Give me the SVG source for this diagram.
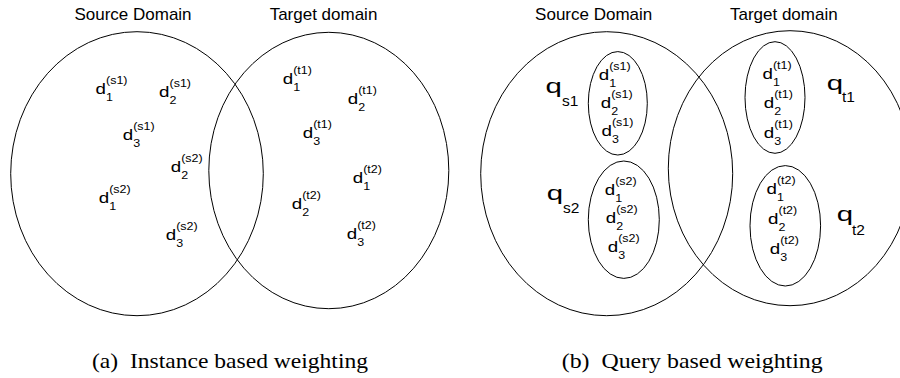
<svg xmlns="http://www.w3.org/2000/svg" width="900" height="378" viewBox="0 0 900 378">
<style>
.bg{fill:#fff}
.set{fill:none;stroke:#000;stroke-width:1}
.title{font-family:"Liberation Sans",Arial,sans-serif;font-size:17px;fill:#000;text-anchor:middle}
.dm{font-family:"Liberation Sans",Arial,sans-serif;font-size:15px;fill:#000}
.ds{font-family:"Liberation Sans",Arial,sans-serif;font-size:10px;fill:#000}
.qm{font-family:"Liberation Sans",Arial,sans-serif;font-size:21px;fill:#000}
.qs{font-family:"Liberation Sans",Arial,sans-serif;font-size:15.5px;fill:#000}
.cap{font-family:"Liberation Serif","Times New Roman",serif;font-size:21.5px;fill:#000}
</style>
<rect class="bg" x="0" y="0" width="900" height="378"/>

<!-- Panel (a) -->
<g id="panel-a">
  <g id="a-source-domain">
    <ellipse class="set" cx="137" cy="173.7" rx="126.3" ry="142"/>
    <text class="title" x="133" y="20">Source Domain</text>
  </g>
  <g id="a-target-domain">
    <ellipse class="set" cx="328.8" cy="170.5" rx="120" ry="138.2"/>
    <text class="title" x="323.5" y="20">Target domain</text>
  </g>
  <g id="a-d1-s1" transform="translate(95.5,94) scale(1.25,1)"><text class="dm">d</text><text class="ds" x="8.4" y="7">1</text><text class="ds" x="8.4" y="-10">(s1)</text></g>
  <g id="a-d2-s1" transform="translate(159,96.7) scale(1.25,1)"><text class="dm">d</text><text class="ds" x="8.4" y="7">2</text><text class="ds" x="8.4" y="-10">(s1)</text></g>
  <g id="a-d3-s1" transform="translate(122.7,140) scale(1.25,1)"><text class="dm">d</text><text class="ds" x="8.4" y="7">3</text><text class="ds" x="8.4" y="-10">(s1)</text></g>
  <g id="a-d2-s2" transform="translate(170.7,171.7) scale(1.25,1)"><text class="dm">d</text><text class="ds" x="8.4" y="7">2</text><text class="ds" x="8.4" y="-10">(s2)</text></g>
  <g id="a-d1-s2" transform="translate(98.7,203) scale(1.25,1)"><text class="dm">d</text><text class="ds" x="8.4" y="7">1</text><text class="ds" x="8.4" y="-10">(s2)</text></g>
  <g id="a-d3-s2" transform="translate(165.7,240) scale(1.25,1)"><text class="dm">d</text><text class="ds" x="8.4" y="7">3</text><text class="ds" x="8.4" y="-10">(s2)</text></g>
  <g id="a-d1-t1" transform="translate(282.7,84) scale(1.25,1)"><text class="dm">d</text><text class="ds" x="8.4" y="7">1</text><text class="ds" x="8.4" y="-10">(t1)</text></g>
  <g id="a-d2-t1" transform="translate(347.7,104) scale(1.25,1)"><text class="dm">d</text><text class="ds" x="8.4" y="7">2</text><text class="ds" x="8.4" y="-10">(t1)</text></g>
  <g id="a-d3-t1" transform="translate(302.7,138) scale(1.25,1)"><text class="dm">d</text><text class="ds" x="8.4" y="7">3</text><text class="ds" x="8.4" y="-10">(t1)</text></g>
  <g id="a-d1-t2" transform="translate(352.7,182.7) scale(1.25,1)"><text class="dm">d</text><text class="ds" x="8.4" y="7">1</text><text class="ds" x="8.4" y="-10">(t2)</text></g>
  <g id="a-d2-t2" transform="translate(291.7,209) scale(1.25,1)"><text class="dm">d</text><text class="ds" x="8.4" y="7">2</text><text class="ds" x="8.4" y="-10">(t2)</text></g>
  <g id="a-d3-t2" transform="translate(346.7,239) scale(1.25,1)"><text class="dm">d</text><text class="ds" x="8.4" y="7">3</text><text class="ds" x="8.4" y="-10">(t2)</text></g>
  <text id="caption-a" class="cap" x="92" y="367.5" textLength="276" lengthAdjust="spacingAndGlyphs">(a)&#160; Instance based weighting</text>
</g>

<!-- Panel (b) -->
<g id="panel-b">
  <g id="b-source-domain">
    <ellipse class="set" cx="606.7" cy="173.7" rx="126" ry="142"/>
    <text class="title" x="593.7" y="20">Source Domain</text>
  </g>
  <g id="b-target-domain">
    <ellipse class="set" cx="790" cy="168.2" rx="121.7" ry="137.5"/>
    <text class="title" x="783.8" y="20">Target domain</text>
  </g>
  <g id="b-query-s1">
    <ellipse class="set" cx="617.8" cy="103.3" rx="29.5" ry="51.7"/>
    <g transform="translate(545.5,93) scale(1.4,1)"><text class="qm">q</text></g>
    <text class="qs" x="562" y="106">s1</text>
    <g transform="translate(598.7,80) scale(1.25,1)"><text class="dm">d</text><text class="ds" x="8.4" y="7">1</text><text class="ds" x="8.4" y="-10">(s1)</text></g>
    <g transform="translate(600.7,107.7) scale(1.25,1)"><text class="dm">d</text><text class="ds" x="8.4" y="7">2</text><text class="ds" x="8.4" y="-10">(s1)</text></g>
    <g transform="translate(601.4,136) scale(1.25,1)"><text class="dm">d</text><text class="ds" x="8.4" y="7">3</text><text class="ds" x="8.4" y="-10">(s1)</text></g>
  </g>
  <g id="b-query-s2">
    <ellipse class="set" cx="623.8" cy="219.7" rx="35.5" ry="58.7"/>
    <g transform="translate(546.8,200) scale(1.4,1)"><text class="qm">q</text></g>
    <text class="qs" x="563" y="213">s2</text>
    <g transform="translate(604.7,195) scale(1.25,1)"><text class="dm">d</text><text class="ds" x="8.4" y="7">1</text><text class="ds" x="8.4" y="-10">(s2)</text></g>
    <g transform="translate(605.7,223.3) scale(1.25,1)"><text class="dm">d</text><text class="ds" x="8.4" y="7">2</text><text class="ds" x="8.4" y="-10">(s2)</text></g>
    <g transform="translate(607.7,252.3) scale(1.25,1)"><text class="dm">d</text><text class="ds" x="8.4" y="7">3</text><text class="ds" x="8.4" y="-10">(s2)</text></g>
  </g>
  <g id="b-query-t1">
    <ellipse class="set" cx="775" cy="97.5" rx="30" ry="55.8"/>
    <g transform="translate(826.8,90) scale(1.4,1)"><text class="qm">q</text></g>
    <text class="qs" x="842" y="101.7">t1</text>
    <g transform="translate(762.4,79.3) scale(1.25,1)"><text class="dm">d</text><text class="ds" x="8.4" y="7">1</text><text class="ds" x="8.4" y="-10">(t1)</text></g>
    <g transform="translate(763.7,108.3) scale(1.25,1)"><text class="dm">d</text><text class="ds" x="8.4" y="7">2</text><text class="ds" x="8.4" y="-10">(t1)</text></g>
    <g transform="translate(763.7,137.7) scale(1.25,1)"><text class="dm">d</text><text class="ds" x="8.4" y="7">3</text><text class="ds" x="8.4" y="-10">(t1)</text></g>
  </g>
  <g id="b-query-t2">
    <ellipse class="set" cx="785.3" cy="225.8" rx="35.3" ry="60.2"/>
    <g transform="translate(836.8,221) scale(1.4,1)"><text class="qm">q</text></g>
    <text class="qs" x="852" y="235">t2</text>
    <g transform="translate(766.4,194.3) scale(1.25,1)"><text class="dm">d</text><text class="ds" x="8.4" y="7">1</text><text class="ds" x="8.4" y="-10">(t2)</text></g>
    <g transform="translate(768,224.3) scale(1.25,1)"><text class="dm">d</text><text class="ds" x="8.4" y="7">2</text><text class="ds" x="8.4" y="-10">(t2)</text></g>
    <g transform="translate(769.7,254.3) scale(1.25,1)"><text class="dm">d</text><text class="ds" x="8.4" y="7">3</text><text class="ds" x="8.4" y="-10">(t2)</text></g>
  </g>
  <text id="caption-b" class="cap" x="561.7" y="367.5" textLength="261" lengthAdjust="spacingAndGlyphs">(b)&#160; Query based weighting</text>
</g>
</svg>
